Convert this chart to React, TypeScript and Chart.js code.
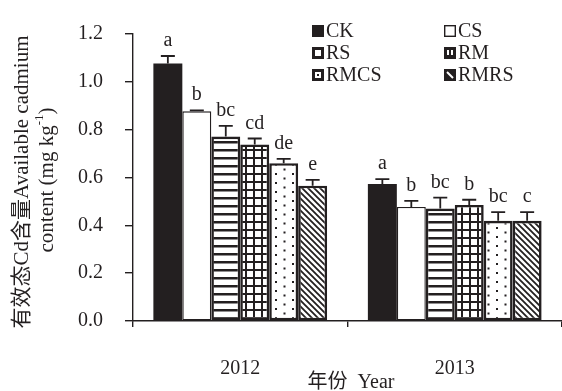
import React, { useEffect, useRef } from "react";
import { Chart, registerables } from "chart.js";

Chart.register(...registerables);

// Years on the category axis
const years = ["2012", "2013"];

// Available Cd content (mg kg-1) per treatment, with upper error and significance letters
const seriesNames = ["CK", "CS", "RS", "RM", "RMCS", "RMRS"];
const ck = [1.077, 0.573];
const cs = [0.877, 0.477];
const rs = [0.771, 0.47];
const rm = [0.738, 0.485];
const rmcs = [0.66, 0.419];
const rmrs = [0.566, 0.419];

const ckErr = [0.031, 0.02];
const csErr = [0.004, 0.025];
const rsErr = [0.045, 0.046];
const rmErr = [0.025, 0.022];
const rmcsErr = [0.018, 0.036];
const rmrsErr = [0.024, 0.036];

const ckSig = ["a", "a"];
const csSig = ["b", "b"];
const rsSig = ["bc", "bc"];
const rmSig = ["cd", "b"];
const rmcsSig = ["de", "bc"];
const rmrsSig = ["e", "c"];

const yTicks = [0, 0.2, 0.4, 0.6, 0.8, 1.0, 1.2];

const INK = "#231f20";
const SERIF = '"Liberation Serif", "Times New Roman", "Noto Sans CJK SC", serif';

function tile(w: number, h: number, draw: (c: CanvasRenderingContext2D) => void) {
  const cv = document.createElement("canvas");
  cv.width = w;
  cv.height = h;
  const c = cv.getContext("2d")!;
  c.fillStyle = "#fff";
  c.fillRect(0, 0, w, h);
  c.fillStyle = INK;
  c.strokeStyle = INK;
  draw(c);
  return c.createPattern(cv, "repeat")!;
}

function makeFills(): (string | CanvasPattern)[] {
  const stripes = tile(8, 8, (c) => c.fillRect(0, 5, 8, 2.5));
  const grid = tile(8, 8, (c) => {
    c.fillRect(0, 5, 8, 2);
    c.fillRect(5, 0, 2, 8);
  });
  const dots = tile(17, 9, (c) => {
    c.fillRect(3, 2, 2, 2);
    c.fillRect(11.5, 6.5, 2, 2);
  });
  const diag = tile(6, 6, (c) => {
    c.lineWidth = 1.8;
    c.beginPath();
    c.moveTo(-1, -1);
    c.lineTo(7, 7);
    c.moveTo(-1, 5);
    c.lineTo(1, 7);
    c.moveTo(5, -1);
    c.lineTo(7, 1);
    c.stroke();
  });
  return [INK, "#ffffff", stripes, grid, dots, diag];
}

// small legend swatches for each treatment
function drawSwatch(c: CanvasRenderingContext2D, i: number, x: number, y: number, s: number) {
  c.save();
  c.fillStyle = INK;
  c.strokeStyle = INK;
  if (i === 0) {
    c.fillRect(x, y, s, s);
  } else if (i === 1) {
    c.fillStyle = "#fff";
    c.fillRect(x, y, s, s);
    c.lineWidth = 1.4;
    c.strokeRect(x + 0.7, y + 0.7, s - 1.4, s - 1.4);
  } else if (i === 2) {
    c.lineWidth = 3;
    c.strokeRect(x + 1.5, y + 1.5, s - 3, s - 3);
  } else if (i === 3) {
    c.fillRect(x, y, s, s);
    c.fillStyle = "#fff";
    c.fillRect(x + 3, y + 3, 2, s - 7);
    c.fillRect(x + 7, y + 3, 2, s - 7);
  } else if (i === 4) {
    c.lineWidth = 3;
    c.strokeRect(x + 1.5, y + 1.5, s - 3, s - 3);
    c.fillRect(x + s / 2 - 1, y + s / 2 - 1, 2, 2);
  } else {
    c.fillRect(x, y, s, s);
    c.strokeStyle = "#fff";
    c.lineWidth = 2;
    c.beginPath();
    c.moveTo(x + 3, y + 3);
    c.lineTo(x + s - 3, y + s - 3);
    c.stroke();
  }
  c.restore();
}

export default function App() {
  const ref = useRef<HTMLCanvasElement | null>(null);

  useEffect(() => {
    document.body.style.margin = "0";
    const canvas = ref.current;
    if (!canvas) return;

    const values = [ck, cs, rs, rm, rmcs, rmrs];
    const errors = [ckErr, csErr, rsErr, rmErr, rmcsErr, rmrsErr];
    const letters = [ckSig, csSig, rsSig, rmSig, rmcsSig, rmrsSig];
    const fills = makeFills();
    const borders = [0, 1.4, 2.6, 2.6, 2.6, 2.6];

    const annotate = {
      id: "annotate",
      afterDatasetsDraw(chart: any) {
        const c: CanvasRenderingContext2D = chart.ctx;
        const yScale = chart.scales.y;
        c.save();
        c.strokeStyle = INK;
        c.fillStyle = INK;
        c.lineWidth = 1.8;
        c.font = `20px ${SERIF}`;
        c.textAlign = "center";
        c.textBaseline = "alphabetic";
        values.forEach((vals, i) => {
          const meta = chart.getDatasetMeta(i);
          meta.data.forEach((bar: any, j: number) => {
            const top = yScale.getPixelForValue(vals[j]);
            const errTop = yScale.getPixelForValue(vals[j] + errors[i][j]);
            c.beginPath();
            c.moveTo(bar.x, top);
            c.lineTo(bar.x, errTop);
            c.moveTo(bar.x - 7, errTop);
            c.lineTo(bar.x + 7, errTop);
            c.stroke();
            c.fillText(letters[i][j], bar.x, errTop - 10);
          });
        });
        c.restore();
      },
      afterDraw(chart: any) {
        const c: CanvasRenderingContext2D = chart.ctx;
        c.save();
        c.fillStyle = INK;

        // legend, two columns
        const colX = [312, 444];
        const rowY = [25, 47, 69];
        const box = 12;
        c.font = `20px ${SERIF}`;
        c.textAlign = "left";
        c.textBaseline = "middle";
        seriesNames.forEach((name, i) => {
          const x = colX[i % 2];
          const y = rowY[Math.floor(i / 2)];
          drawSwatch(c, i, x, y, box);
          c.fillStyle = INK;
          c.fillText(name, x + box + 2, y + box / 2 + 1);
        });

        // x-axis title
        c.font = `20px ${SERIF}`;
        c.textAlign = "center";
        c.textBaseline = "middle";
        c.fillText("年份  Year", 351, 383);

        // y-axis title, two rotated lines
        c.font = `21px ${SERIF}`;
        c.save();
        c.translate(22, 182);
        c.rotate(-Math.PI / 2);
        c.fillText("有效态Cd含量Available cadmium", 0, 0);
        c.restore();

        c.save();
        c.translate(47, 180);
        c.rotate(-Math.PI / 2);
        const main = "content (mg kg";
        const sup = "-1";
        const close = ")";
        c.font = `21px ${SERIF}`;
        const wMain = c.measureText(main).width;
        const wClose = c.measureText(close).width;
        c.font = `13px ${SERIF}`;
        const wSup = c.measureText(sup).width;
        const total = wMain + wSup + wClose;
        let x0 = -total / 2;
        c.textAlign = "left";
        c.font = `21px ${SERIF}`;
        c.fillText(main, x0, 0);
        x0 += wMain;
        c.font = `13px ${SERIF}`;
        c.fillText(sup, x0, -7);
        x0 += wSup;
        c.font = `21px ${SERIF}`;
        c.fillText(close, x0, 0);
        c.restore();

        c.restore();
      },
    };

    const chart = new Chart(canvas, {
      type: "bar",
      data: {
        labels: years,
        datasets: values.map((v, i) => ({
          label: seriesNames[i],
          data: v,
          backgroundColor: fills[i] as any,
          borderColor: INK,
          borderWidth: borders[i],
          borderSkipped: false,
          categoryPercentage: 0.81,
          barPercentage: 1.0,
        })),
      },
      options: {
        animation: false,
        responsive: false,
        layout: { padding: { top: 22, left: 0, right: 0, bottom: 0 } },
        plugins: {
          legend: { display: false },
          tooltip: { enabled: false },
          title: { display: false },
        },
        scales: {
          x: {
            offset: true,
            grid: {
              display: true,
              drawOnChartArea: false,
              offset: true,
              tickLength: 6,
              color: INK,
              lineWidth: 1.4,
            },
            border: { color: INK, width: 1.4 },
            ticks: {
              color: INK,
              font: { family: SERIF, size: 20 },
              padding: 30,
            },
            afterFit: (s: any) => {
              s.height = 70;
            },
          },
          y: {
            min: yTicks[0],
            max: yTicks[yTicks.length - 1],
            afterBuildTicks: (s: any) => {
              s.ticks = yTicks.map((v) => ({ value: v }));
            },
            grid: {
              display: true,
              drawOnChartArea: false,
              tickLength: 8,
              color: INK,
              lineWidth: 1.4,
            },
            border: { color: INK, width: 1.4 },
            ticks: {
              color: INK,
              font: { family: SERIF, size: 20 },
              padding: 22,
              callback: (v: any) => Number(v).toFixed(1),
            },
            afterFit: (s: any) => {
              s.width = 133;
            },
          },
        },
      },
      plugins: [annotate],
    });

    return () => chart.destroy();
  }, []);

  return (
    <div style={{ width: 562, height: 391 }}>
      <canvas ref={ref} width={562} height={391} style={{ display: "block" }} />
    </div>
  );
}
